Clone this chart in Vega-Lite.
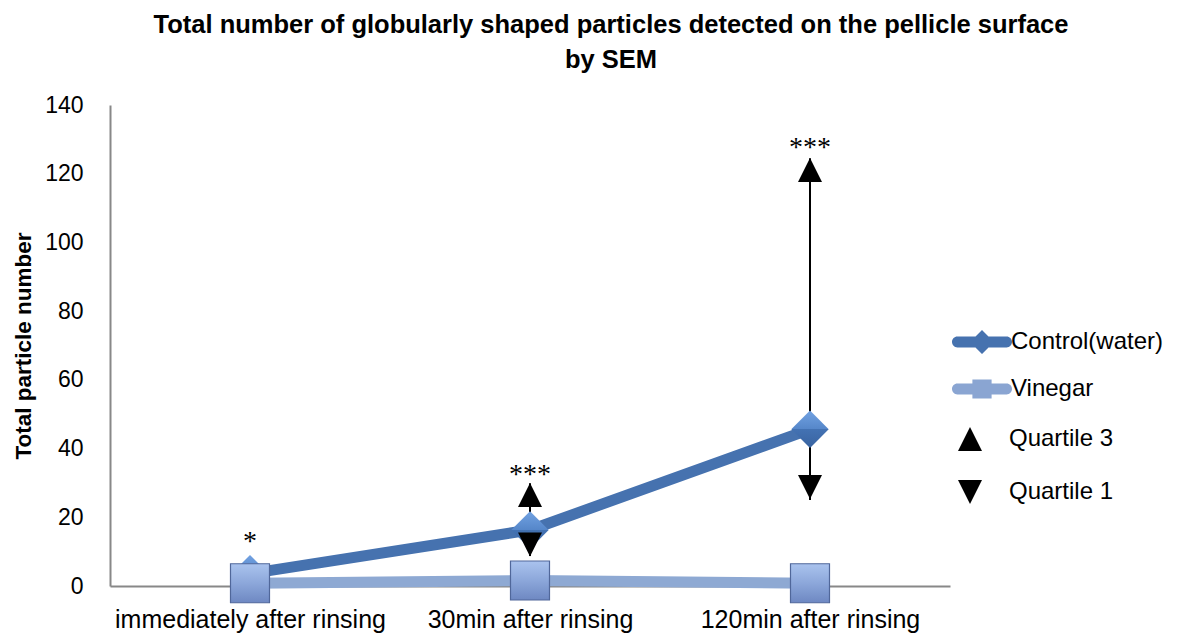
{
  "$schema": "https://vega.github.io/schema/vega-lite/v6.json",
  "width": 840,
  "height": 481,
  "autosize": {"type": "none"},
  "padding": {"left": 110, "top": 105, "right": 236, "bottom": 50},
  "background": "white",
  "title": {
    "text": ["Total number of globularly shaped particles detected on the pellicle surface", "by SEM"],
    "font": "Liberation Sans",
    "fontSize": 25.5,
    "fontWeight": "bold",
    "color": "#000000",
    "anchor": "middle",
    "frame": "group",
    "dx": 81,
    "lineHeight": 35,
    "offset": 21
  },
  "config": {"view": {"stroke": null}, "font": "Liberation Sans"},
  "datasets": {
    "series": [
      {"time": "immediately after rinsing", "series": "Control(water)", "value": 3.6},
      {"time": "30min after rinsing", "series": "Control(water)", "value": 16.3},
      {"time": "120min after rinsing", "series": "Control(water)", "value": 45.6},
      {"time": "immediately after rinsing", "series": "Vinegar", "value": 0.8},
      {"time": "30min after rinsing", "series": "Vinegar", "value": 1.6},
      {"time": "120min after rinsing", "series": "Vinegar", "value": 0.8}
    ],
    "quart": [
      {"time": "30min after rinsing", "stat": "Quartile 3", "value": 26.5},
      {"time": "30min after rinsing", "stat": "Quartile 1", "value": 12.1},
      {"time": "120min after rinsing", "stat": "Quartile 3", "value": 121.1},
      {"time": "120min after rinsing", "stat": "Quartile 1", "value": 28.8}
    ],
    "bars": [
      {"time": "30min after rinsing", "lo": 8.7, "hi": 29.9},
      {"time": "120min after rinsing", "lo": 25, "hi": 124.5}
    ],
    "stars": [
      {"time": "immediately after rinsing", "label": "*", "pos": 12.8},
      {"time": "30min after rinsing", "label": "***", "pos": 32.3},
      {"time": "120min after rinsing", "label": "***", "pos": 127.5}
    ]
  },
  "encoding": {
    "x": {
      "field": "time",
      "type": "nominal",
      "sort": ["immediately after rinsing", "30min after rinsing", "120min after rinsing"],
      "scale": {"type": "point", "padding": 0.5, "domain": ["immediately after rinsing", "30min after rinsing", "120min after rinsing"]},
      "axis": {
        "title": null,
        "labelAngle": 0,
        "labelLimit": 0,
        "labelFont": "Liberation Sans",
        "labelFontSize": 25,
        "labelColor": "#000000",
        "labelPadding": 21,
        "ticks": false,
        "tickSize": 0,
        "grid": false,
        "domainColor": "#888888",
        "domainWidth": 2
      }
    }
  },
  "layer": [
    {
      "data": {"name": "series"},
      "mark": {"type": "line", "strokeWidth": 11, "strokeJoin": "round"},
      "encoding": {
        "y": {
          "field": "value",
          "type": "quantitative",
          "title": "Total particle number",
          "scale": {"domain": [0, 140], "nice": false},
          "axis": {
            "values": [0, 20, 40, 60, 80, 100, 120, 140],
            "titleFont": "Liberation Sans",
            "titleFontSize": 22.5,
            "titleFontWeight": "bold",
            "titleColor": "#000000",
            "titlePadding": 9,
            "labelFont": "Liberation Sans",
            "labelFontSize": 23,
            "labelColor": "#000000",
            "labelPadding": 27,
            "ticks": false,
            "tickSize": 0,
            "grid": false,
            "domainColor": "#888888",
            "domainWidth": 2
          }
        },
        "stroke": {
          "field": "series",
          "type": "nominal",
          "scale": {"domain": ["Control(water)", "Vinegar"], "range": ["#4672AF", "#8EA9D3"]},
          "legend": null
        }
      }
    },
    {
      "data": {"name": "bars"},
      "mark": {"type": "rule", "color": "#000000", "strokeWidth": 2},
      "encoding": {
        "y": {"field": "lo", "type": "quantitative", "title": "Total particle number"},
        "y2": {"field": "hi"}
      }
    },
    {
      "data": {"name": "series"},
      "transform": [{"filter": "datum.series === 'Control(water)'"}],
      "mark": {
        "type": "point",
        "shape": "diamond",
        "size": 1400,
        "filled": true,
        "opacity": 1,
        "strokeWidth": 0,
        "fill": {
          "gradient": "linear", "x1": 0, "y1": 0, "x2": 0, "y2": 1,
          "stops": [
            {"offset": 0, "color": "#72A2E2"},
            {"offset": 0.5, "color": "#5586C9"},
            {"offset": 0.5, "color": "#4372B3"},
            {"offset": 1, "color": "#3963A0"}
          ]
        }
      },
      "encoding": {
        "y": {"field": "value", "type": "quantitative", "title": "Total particle number"}
      }
    },
    {
      "data": {"name": "quart"},
      "mark": {"type": "point", "filled": true, "opacity": 1, "size": 576, "color": "#000000", "strokeWidth": 0},
      "encoding": {
        "y": {"field": "value", "type": "quantitative", "title": "Total particle number"},
        "shape": {
          "field": "stat",
          "type": "nominal",
          "scale": {"domain": ["Quartile 3", "Quartile 1"], "range": ["M0,-1L1,1L-1,1Z", "M-1,-1L1,-1L0,1Z"]},
          "legend": {
            "title": null,
            "orient": "none",
            "legendX": 848,
            "legendY": 322,
            "padding": 0,
            "symbolSize": 576,
            "symbolFillColor": "#000000",
            "symbolStrokeWidth": 0,
            "symbolOpacity": 1,
            "labelFont": "Liberation Sans",
            "labelFontSize": 24,
            "labelColor": "#000000",
            "labelOffset": 27,
            "rowPadding": 29
          }
        }
      }
    },
    {
      "data": {"name": "series"},
      "transform": [{"filter": "datum.series === 'Vinegar'"}],
      "mark": {
        "type": "point",
        "shape": "square",
        "size": 1521,
        "filled": true,
        "opacity": 1,
        "stroke": "#50679A",
        "strokeWidth": 1.2,
        "fill": {
          "gradient": "linear", "x1": 0, "y1": 0, "x2": 0, "y2": 1,
          "stops": [
            {"offset": 0, "color": "#AAC3EE"},
            {"offset": 0.5, "color": "#8CA7DA"},
            {"offset": 1, "color": "#6E88C2"}
          ]
        }
      },
      "encoding": {
        "y": {"field": "value", "type": "quantitative", "title": "Total particle number"}
      }
    },
    {
      "data": {"name": "series"},
      "mark": {"type": "point", "filled": true, "opacity": 1, "size": 0, "strokeWidth": 0},
      "encoding": {
        "y": {"field": "value", "type": "quantitative", "title": "Total particle number"},
        "color": {
          "field": "series",
          "type": "nominal",
          "scale": {"domain": ["Control(water)", "Vinegar"], "range": ["#4672AF", "#8AA5D2"]},
          "legend": {
            "title": null,
            "orient": "none",
            "legendX": 860,
            "legendY": 225,
            "padding": 0,
            "symbolSize": 576,
            "symbolStrokeWidth": 0,
            "symbolOpacity": 1,
            "labelFont": "Liberation Sans",
            "labelFontSize": 24,
            "labelColor": "#000000",
            "labelOffset": 17,
            "rowPadding": 23
          }
        },
        "shape": {
          "field": "series",
          "type": "nominal",
          "scale": {
            "domain": ["Control(water)", "Vinegar"],
            "range": [
              "M-2.05,-0.45H2.05A0.45,0.45 0 0 1 2.05,0.45H-2.05A0.45,0.45 0 0 1 -2.05,-0.45ZM0,-1L1,0L0,1L-1,0Z",
              "M-2.05,-0.45H2.05A0.45,0.45 0 0 1 2.05,0.45H-2.05A0.45,0.45 0 0 1 -2.05,-0.45ZM-0.8,-0.8H0.8V0.8H-0.8Z"
            ]
          },
          "legend": {
            "title": null,
            "orient": "none",
            "legendX": 860,
            "legendY": 225,
            "padding": 0,
            "symbolSize": 576,
            "symbolStrokeWidth": 0,
            "symbolOpacity": 1,
            "labelFont": "Liberation Sans",
            "labelFontSize": 24,
            "labelColor": "#000000",
            "labelOffset": 17,
            "rowPadding": 23
          }
        }
      }
    },
    {
      "data": {"name": "stars"},
      "mark": {"type": "text", "font": "Liberation Serif", "fontSize": 28, "color": "#000000", "align": "center", "baseline": "middle"},
      "encoding": {
        "y": {"field": "pos", "type": "quantitative", "title": "Total particle number"},
        "text": {"field": "label"}
      }
    }
  ],
  "resolve": {"scale": {"shape": "independent", "color": "independent"}}
}
